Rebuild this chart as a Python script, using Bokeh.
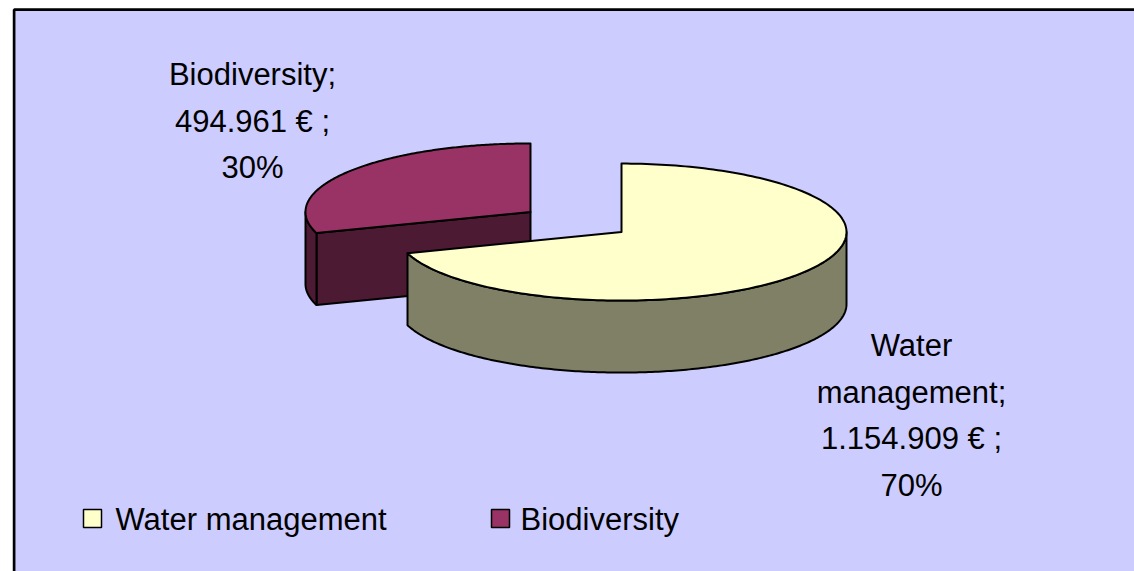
import numpy as np
from bokeh.plotting import figure
from bokeh.models import Range1d
from bokeh.core.properties import value
from bokeh.embed import file_html
from bokeh.resources import INLINE

# ---- data ----
categories = ["Water management", "Biodiversity"]
amounts = [1154909, 494961]
top_colors = ["#FFFFCC", "#993366"]
side_colors = ["#808066", "#4D1A33"]

# ---- layout / style ----
W, H = 1134, 571
BG = "#CCCCFF"
FONT = value("Liberation Sans")
FS = "31px"
cx, cy, rx, ry, depth, explode = 575.5, 221.5, 225.0, 68.5, 72.0, 0.25
label_anchor = [(911, 345), (252, 74)]
line_step = 46.5
legend_box_x = [83, 491]
legend_text_x = [115, 520]
legend_box_top, legend_box_size, legend_baseline = 509, 18, 519

p = figure(width=W, height=H, output_backend="svg", toolbar_location=None,
           x_range=Range1d(0, W), y_range=Range1d(H, 0),
           min_border=0, x_axis_type=None, y_axis_type=None)
p.grid.visible = False
p.outline_line_color = None
p.background_fill_color = "white"
p.border_fill_color = "white"

# chart area background with left/top border
p.quad(left=[13.6], right=[1150], top=[9.2], bottom=[600], fill_color=BG, line_color=None)
p.line([13.6, 13.6, 1150], [600, 9.2, 9.2], line_width=2.7, line_color="black")

# ---- pie geometry ----
total = float(sum(amounts))
fracs = [a / total for a in amounts]
slices = []
ang = 90.0
for i, f in enumerate(fracs):
    sweep = 360.0 * f
    b = ang
    a = ang - sweep
    mid = np.radians((a + b) / 2)
    scx = cx + rx * explode * np.cos(mid)
    scy = cy - ry * explode * np.sin(mid)
    slices.append(dict(i=i, a=a, b=b, scx=scx, scy=scy))
    ang = a


def rim(s, t0, t1, n=200, dz=0.0):
    t = np.radians(np.linspace(t0, t1, n))
    return list(s["scx"] + rx * np.cos(t)), list(s["scy"] - ry * np.sin(t) + dz)


xs, ys, fills = [], [], []
for s in sorted(slices, key=lambda d: d["scy"]):
    i = s["i"]
    a, b = s["a"], s["b"]
    # radial faces
    for edge, normal in ((a, a - 90), (b, b + 90)):
        if np.sin(np.radians(normal)) < -1e-6:
            e = np.radians(edge)
            px = s["scx"] + rx * np.cos(e)
            py = s["scy"] - ry * np.sin(e)
            xs.append([s["scx"], px, px, s["scx"]])
            ys.append([s["scy"], py, py + depth, s["scy"] + depth])
            fills.append(side_colors[i])
    # curved outer side (front facing part)
    for k in range(-2, 3):
        lo = max(a, -180 + 360 * k)
        hi = min(b, 360 * k)
        if hi - lo > 0.01:
            tx, ty = rim(s, lo, hi)
            bx, by = rim(s, hi, lo, dz=depth)
            xs.append(tx + bx)
            ys.append(ty + by)
            fills.append(side_colors[i])
    # top face
    tx, ty = rim(s, a, b)
    xs.append([s["scx"]] + tx)
    ys.append([s["scy"]] + ty)
    fills.append(top_colors[i])

p.patches(xs, ys, fill_color=fills, line_color="black", line_width=2, line_join="round")

# ---- data labels ----
for i, name in enumerate(categories):
    words = name.split(" ")
    words[-1] = words[-1] + ";"
    amount_txt = f"{amounts[i]:,}".replace(",", ".") + " \u20ac ;"
    pct_txt = f"{round(100 * fracs[i])}%"
    lines = words + [amount_txt, pct_txt]
    lx, ly = label_anchor[i]
    p.text(x=[lx] * len(lines), y=[ly + k * line_step for k in range(len(lines))], text=lines,
           text_font=FONT, text_font_size=FS, text_align="center",
           text_baseline="alphabetic", text_color="black")

# ---- legend ----
for i, name in enumerate(categories):
    bx0 = legend_box_x[i]
    p.quad(left=[bx0], right=[bx0 + legend_box_size], top=[legend_box_top],
           bottom=[legend_box_top + legend_box_size], fill_color=top_colors[i],
           line_color="black", line_width=1.5)
    p.text(x=[legend_text_x[i]], y=[legend_baseline], text=[name], text_font=FONT,
           text_font_size=FS, text_align="left", text_baseline="alphabetic", text_color="black")

open("out.html", "w").write(file_html(p, INLINE))
